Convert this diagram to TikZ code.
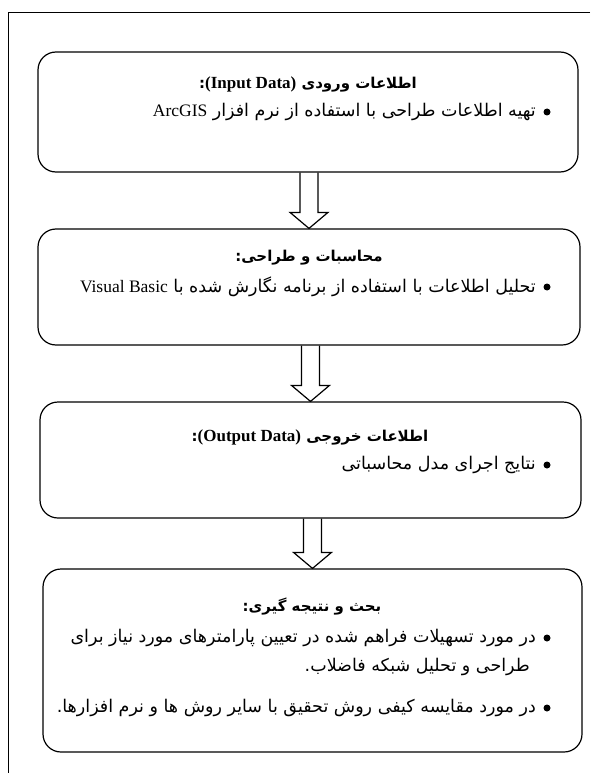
\documentclass[tikz,border=0pt]{standalone}
\usepackage{fontspec}
\setmainfont{Liberation Serif}
\newfontfamily\farsi[Script=Arabic,Scale=1.0]{DejaVu Sans}
\newfontfamily\farsihead[Script=Arabic,Scale=0.88]{DejaVu Sans}
\TeXXeTstate=1
\usetikzlibrary{calc}

\begin{document}
\begin{tikzpicture}[x=1pt,y=-1pt,
    box/.style={draw,line width=1.2pt,rounded corners=18pt,inner sep=0pt},
    title/.style={inner sep=0pt,font=\bfseries\fontsize{17}{20}\selectfont},
    item/.style={anchor=east,inner sep=0pt,font=\fontsize{17.5}{21}\selectfont},
    blockarrow/.style={draw,line width=1.2pt,line join=miter}
    ]
    \useasboundingbox (0,0) rectangle (590,773);
    % frame of the page
    \draw[line width=1pt] (590,13) -- (8,13) -- (8,773);
    
    % steps
    \node[box,minimum width=540,minimum height=120] (b1) at (308,112) {};
    \node[box,minimum width=542,minimum height=116] (b2) at (309,287) {};
    \node[box,minimum width=541,minimum height=116] (b3) at (310.5,460) {};
    \node[box,minimum width=539,minimum height=183] (b4) at (312.5,660.5) {};
    
    \foreach \a/\b in {b1/b2,b2/b3,b3/b4}
    \draw[blockarrow] ($(\a.south -| \b.north)+(-9,0)$) -- ($(\b.north)+(-9,-16)$) -- ++(-10,0) -- (\b.north)
    -- ($(\b.north)+(19,-16)$) -- ++(-10,0) -- ($(\a.south -| \b.north)+(9,0)$);
    
    % texts
    \node[title] (t1) at (308,84) {\farsihead\beginR اطلاعات ورودی \beginL{\rmfamily(Input Data)}\endL{}:\endR};
    \node[item] (i1) at (536,112) {\farsi\beginR تهیه اطلاعات طراحی با استفاده از نرم افزار \beginL{\rmfamily ArcGIS}\endL{}\endR};
    
    \node[title] (t2) at (309,258) {\farsihead\beginR محاسبات و طراحی:\endR};
    \node[item] (i2) at (536,287) {\farsi\beginR تحلیل اطلاعات با استفاده از برنامه نگارش شده با \beginL{\rmfamily Visual Basic}\endL{}\endR};
    
    \node[title] (t3) at (310,437) {\farsihead\beginR اطلاعات خروجی \beginL{\rmfamily(Output Data)}\endL{}:\endR};
    \node[item] (i3) at (536,465) {\farsi\beginR نتایج اجرای مدل محاسباتی\endR};
    
    \node[title] (t4) at (312,607) {\farsihead\beginR بحث و نتیجه گیری:\endR};
    \node[item] (i4) at (536,638) {\farsi\beginR در مورد تسهیلات فراهم شده در تعیین پارامترهای مورد نیاز برای\endR};
    \node[item] (i5) at (530,667) {\farsi\beginR طراحی و تحلیل شبکه فاضلاب.\endR};
    \node[item] (i6) at (536,708) {\farsi\beginR در مورد مقایسه کیفی روش تحقیق با سایر روش ها و نرم افزارها.\endR};
    
    % bullets
    \foreach \y in {112,287,465,638,708} \fill (547,\y) circle (3.5pt);
\end{tikzpicture}
\end{document}
